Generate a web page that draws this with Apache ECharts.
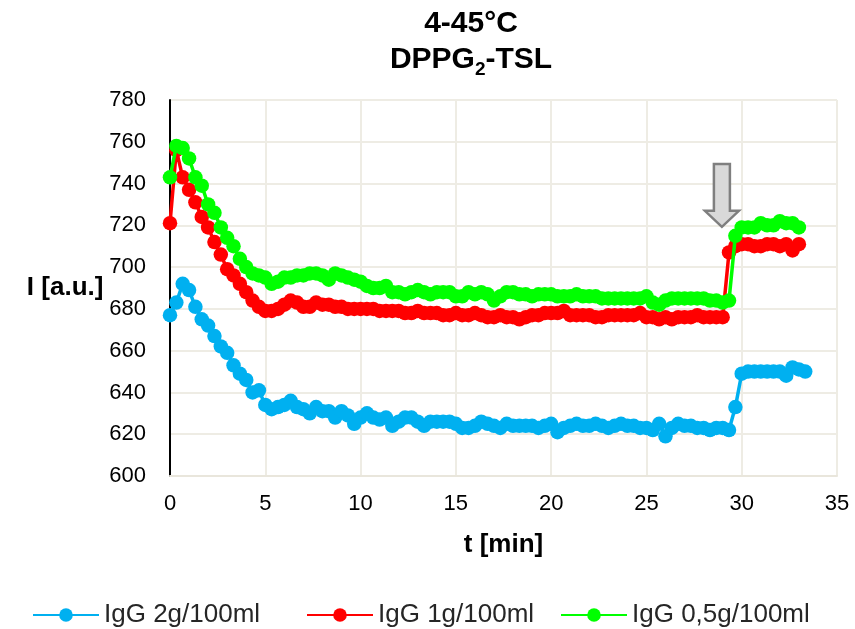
<!DOCTYPE html>
<html>
<head>
<meta charset="utf-8">
<script src="https://cdn.jsdelivr.net/npm/echarts@6/dist/echarts.min.js"></script>
<style>html,body{margin:0;padding:0;background:#fff}#c{width:855px;height:629px}</style>
</head>
<body>
<div id="c"></div>
<script>
// sampling step in minutes (20 s)
const STEP = 1 / 3;
const seriesNames = ['IgG 2g/100ml', 'IgG 1g/100ml', 'IgG 0,5g/100ml'];
const xTicks = [0, 5, 10, 15, 20, 25, 30, 35];
const yTicks = [600, 620, 640, 660, 680, 700, 720, 740, 760, 780];

const igg2 = [677,683,692,689,681,675,672,667,662,659,
  653,649,646,640,641,634,632,633,634,636,
  633,632,630,633,631,631,628,631,629,625,
  628,630,628,627,628,624,626,628,628,626,
  624,626,626,626,626,625,623,623,624,626,
  625,624,623,625,624,624,624,624,623,624,
  625,621,623,624,625,624,624,625,624,623,
  624,625,624,624,623,623,622,625,619,623,
  625,624,624,623,623,622,623,623,622,633,
  649,650,650,650,650,650,650,648,652,651,
  650];
const igg1 = [721,756,743,737,731,724,719,712,706,699,
  696,692,688,684,681,679,679,680,682,684,
  683,681,681,683,682,682,681,681,680,680,
  680,680,680,679,679,679,679,678,678,679,
  678,678,678,677,677,678,677,677,678,677,
  676,676,677,676,676,675,676,677,677,678,
  678,678,679,677,677,677,677,676,676,677,
  677,677,677,677,678,676,676,675,676,675,
  676,676,676,677,676,676,676,676,707,710,
  711,711,710,710,711,711,710,711,708,711];
const igg05 = [743,758,757,752,743,739,730,726,719,714,
  710,704,700,697,696,695,692,693,695,695,
  696,696,697,697,696,694,697,696,695,694,
  693,691,690,690,691,688,688,687,688,689,
  688,687,688,688,688,686,686,688,687,688,
  687,684,686,688,688,687,687,686,687,687,
  687,686,686,686,687,686,686,686,685,685,
  685,685,685,685,685,686,683,682,684,685,
  685,685,685,685,685,684,684,683,684,715,
  719,719,719,721,720,720,722,721,721,719];

const colors = ['#00B0F0', '#FF0000', '#00FF00'];
const FONT = 'Liberation Sans, Arial, sans-serif';

function toPairs(arr) { return arr.map((v, i) => [i * STEP, v]); }

const chart = echarts.init(document.getElementById('c'));
const data = [igg2, igg1, igg05];
const legendLefts = [27, 301, 555];
const option = {
  animation: false,
  backgroundColor: '#fff',
  title: {
    text: '{a|4-45°C}\n{a|DPPG}{s|2}{a|-TSL}',
    left: 466, top: 1, textAlign: 'center',
    textStyle: {
      rich: {
        a: { fontFamily: FONT, fontWeight: 'bold', fontSize: 30, lineHeight: 36, color: '#000' },
        s: { fontFamily: FONT, fontWeight: 'bold', fontSize: 19, lineHeight: 19, padding: [19, 0, 0, 0], color: '#000' }
      }
    }
  },
  grid: { left: 170, right: 18, top: 100, bottom: 153 },
  legend: seriesNames.map((n, k) => ({
    left: legendLefts[k], top: 597, itemWidth: 66, itemHeight: 17, itemGap: 0,
    textStyle: { fontFamily: FONT, fontSize: 26, color: '#262626' },
    data: [n]
  })),
  xAxis: {
    type: 'value', min: xTicks[0], max: xTicks[xTicks.length - 1], interval: 5,
    name: 't [min]', nameLocation: 'middle', nameGap: 56,
    nameTextStyle: { fontFamily: FONT, fontWeight: 'bold', fontSize: 26, color: '#000' },
    axisLine: { show: true, lineStyle: { color: '#E9E6DC', width: 2 } },
    axisTick: { show: false },
    axisLabel: { fontFamily: FONT, fontSize: 22, color: '#000', margin: 17 },
    splitLine: { show: true, lineStyle: { color: '#EEECE4', width: 2 } }
  },
  yAxis: {
    type: 'value', min: yTicks[0], max: yTicks[yTicks.length - 1], interval: 20,
    name: 'I [a.u.]', nameLocation: 'middle', nameRotate: 0, nameGap: 52,
    nameTextStyle: { fontFamily: FONT, fontWeight: 'bold', fontSize: 26, color: '#000' },
    axisLine: { show: true, lineStyle: { color: '#000', width: 2 } },
    axisTick: { show: false },
    axisLabel: { fontFamily: FONT, fontSize: 22, color: '#000', margin: 24 },
    splitLine: { show: true, lineStyle: { color: '#EEECE4', width: 2 } }
  },
  series: data.map((d, k) => ({
    name: seriesNames[k], type: 'line', data: toPairs(d),
    symbol: 'circle', symbolSize: 14.5, showSymbol: true,
    lineStyle: { color: colors[k], width: 3.5 },
    itemStyle: { color: colors[k] },
    z: 2 + k
  }))
};
chart.setOption(option);

// downward arrow annotation near the temperature jump
const arrowTip = chart.convertToPixel({ gridIndex: 0 }, [28.96, 719.3]);
const arrowTop = chart.convertToPixel({ gridIndex: 0 }, [28.96, 749.4]);
const ax = arrowTip[0], ayt = arrowTip[1], ay0 = arrowTop[1];
const sw = 8, hw = 17, hh = 16;
chart.setOption({
  graphic: [{
    type: 'polygon', z: 100,
    shape: { points: [[ax - sw, ay0], [ax + sw, ay0], [ax + sw, ayt - hh], [ax + hw, ayt - hh], [ax, ayt], [ax - hw, ayt - hh], [ax - sw, ayt - hh]] },
    style: { fill: '#D9D9D9', stroke: '#7F7F7F', lineWidth: 2.5 }
  }]
});
</script>
</body>
</html>
